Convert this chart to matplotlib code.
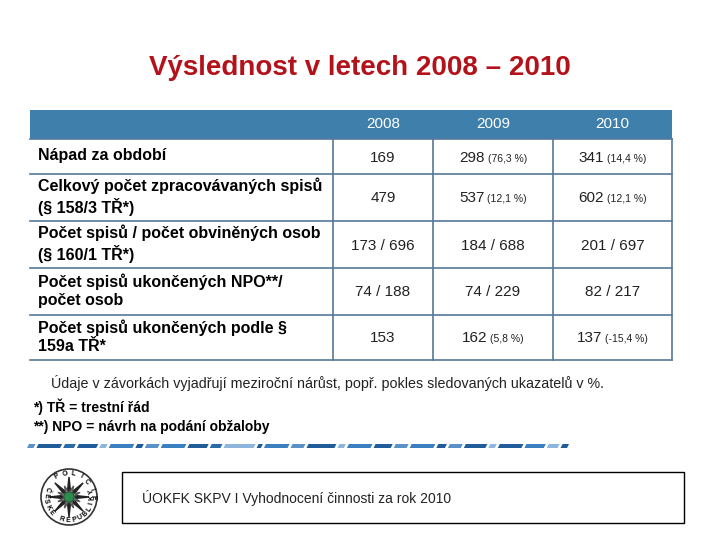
import numpy as np
import matplotlib.pyplot as plt
from matplotlib.patches import Rectangle, Circle, Polygon

plt.rcParams['font.family'] = ['Liberation Sans', 'DejaVu Sans']

# Table content
title = "Výslednost v letech 2008 – 2010"
years = ["2008", "2009", "2010"]
row_labels = [
    "Nápad za období",
    "Celkový počet zpracovávaných spisů\n(§ 158/3 TŘ*)",
    "Počet spisů / počet obviněných osob\n(§ 160/1 TŘ*)",
    "Počet spisů ukončených NPO**/\npočet osob",
    "Počet spisů ukončených podle §\n159a TŘ*",
]
values_2008 = ["169", "479", "173 / 696", "74 / 188", "153"]
values_2009 = ["298", "537", "184 / 688", "74 / 229", "162"]
values_2010 = ["341", "602", "201 / 697", "82 / 217", "137"]
change_2009 = ["(76,3 %)", "(12,1 %)", "", "", "(5,8 %)"]
change_2010 = ["(14,4 %)", "(12,1 %)", "", "", "(-15,4 %)"]
note = "Údaje v závorkách vyjadřují meziroční nárůst, popř. pokles sledovaných ukazatelů v %."
footnotes = ["*) TŘ = trestní řád", "**) NPO = návrh na podání obžaloby"]
footer = "ÚOKFK SKPV I Vyhodnocení činnosti za rok 2010"

# layout in pixels
col_edges = [30, 333, 433, 553, 672]
row_edges = [139, 174, 221, 268, 315, 360]
header_top = 110
blue = '#3f7fab'
line_c = '#56799a'

fig = plt.figure(figsize=(7.2, 5.4), dpi=100)
ax = fig.add_axes([0, 0, 1, 1])
ax.set_xlim(0, 720)
ax.set_ylim(540, 0)
ax.axis('off')

ax.text(360, 68, title, ha='center', va='center', fontsize=20, fontweight='bold', color='#b3121b')

# header band
ax.add_patch(Rectangle((col_edges[0], header_top), col_edges[-1] - col_edges[0],
                       row_edges[0] - header_top, facecolor=blue, edgecolor='none'))
for j, y in enumerate(years):
    xc = (col_edges[j + 1] + col_edges[j + 2]) / 2
    ax.text(xc, 124, y, ha='center', va='center', fontsize=11, color='white')

# grid
for y in row_edges:
    ax.plot([col_edges[0], col_edges[-1]], [y, y], color=line_c, lw=1.2)
for x in col_edges[1:]:
    ax.plot([x, x], [row_edges[0], row_edges[-1]], color=line_c, lw=1.2)

fig.canvas.draw()
r = fig.canvas.get_renderer()

cols = [(values_2008, None), (values_2009, change_2009), (values_2010, change_2010)]
for i, lab in enumerate(row_labels):
    yc = (row_edges[i] + row_edges[i + 1]) / 2
    ax.text(38, yc - 1, lab, ha='left', va='center', fontsize=11.5, fontweight='bold',
            color='black', linespacing=1.25)
    base = yc + 5
    for j, (vals, chg) in enumerate(cols):
        xc = (col_edges[j + 1] + col_edges[j + 2]) / 2
        t1 = ax.text(0, base, vals[i], ha='left', va='baseline', fontsize=11, color='#222222')
        w1 = t1.get_window_extent(r).width
        if chg is not None and chg[i]:
            t2 = ax.text(0, base, chg[i], ha='left', va='baseline', fontsize=7.5, color='#222222')
            w2 = t2.get_window_extent(r).width
            gap = 3
            x0 = xc - (w1 + gap + w2) / 2
            t1.set_x(x0)
            t2.set_x(x0 + w1 + gap)
        else:
            t1.set_x(xc - w1 / 2)

ax.text(51, 383, note, ha='left', va='center', fontsize=10.3, color='#222222')
ax.text(33, 407, footnotes[0], ha='left', va='center', fontsize=10, fontweight='bold')
ax.text(33, 427, footnotes[1], ha='left', va='center', fontsize=10, fontweight='bold')

# decorative slanted stripe
seg_len = [6, 22, 10, 18, 6, 22, 6, 12, 22, 18, 10, 28, 4, 22, 12, 26, 6, 22, 16, 12,
           22, 8, 12, 20, 6, 22, 18, 10, 6]
seg_col = ['#5a92c8', '#1f5c99', '#2a6aa8', '#1f5c99', '#8cb6dc', '#3a80c0', '#1f5c99',
           '#5a92c8', '#3a80c0', '#1f5c99', '#2a6aa8', '#8cb6dc', '#1f5c99', '#3a80c0',
           '#5a92c8', '#1f5c99', '#8cb6dc', '#3a80c0', '#1f5c99', '#5a92c8', '#3a80c0',
           '#1f5c99', '#5a92c8', '#1f5c99', '#8cb6dc', '#1f5c99', '#3a80c0', '#8cb6dc',
           '#1f5c99']
gap = 3
scale = (570 - 27 - gap * len(seg_len)) / sum(seg_len)
x = 27
for L, c in zip(seg_len, seg_col):
    L = L * scale
    ax.add_patch(Polygon([(x, 448), (x + 2, 444), (x + 2 + L, 444), (x + L, 448)],
                         facecolor=c, edgecolor='none'))
    x += L + gap

# footer box
ax.add_patch(Rectangle((122, 472), 562, 51, facecolor='white', edgecolor='black', lw=1))
ax.text(142, 498, footer, ha='left', va='center', fontsize=10, color='#222222')

# police badge
cx, cy = 69, 497
ax.add_patch(Circle((cx, cy), 28, facecolor='white', edgecolor='#333333', lw=1.2))
ang = np.linspace(0, 2 * np.pi, 17)[:-1] - np.pi / 2
rad = np.where(np.arange(16) % 2 == 0, 20, 4.5)
ax.add_patch(Polygon(np.c_[cx + rad * np.cos(ang), cy + rad * np.sin(ang)],
                     facecolor='#222222', edgecolor='#222222'))
ang2 = ang + np.pi / 8
rad2 = np.where(np.arange(16) % 2 == 0, 12, 4)
ax.add_patch(Polygon(np.c_[cx + rad2 * np.cos(ang2), cy + rad2 * np.sin(ang2)],
                     facecolor='#888888', edgecolor='#555555'))
ax.add_patch(Circle((cx, cy), 5, facecolor='#2e8b4e', edgecolor='#1a5a30', lw=0.6))
top_txt = "POLICIE"
for k, ch in enumerate(top_txt):
    a = np.deg2rad(-60 + (k - (len(top_txt) - 1) / 2) * 20)
    ax.text(cx + 23.5 * np.cos(a), cy + 23.5 * np.sin(a), ch, ha='center', va='center',
            fontsize=5, fontweight='bold', rotation=-np.rad2deg(a) - 90)
bot_txt = "ČESKÉ REPUBLIKY"
for k, ch in enumerate(bot_txt):
    a = np.deg2rad(200 - k * 215 / (len(bot_txt) - 1))
    ax.text(cx + 23.5 * np.cos(a), cy + 23.5 * np.sin(a), ch, ha='center', va='center',
            fontsize=5, fontweight='bold', rotation=-np.rad2deg(a) + 90)

fig.savefig('out.png', dpi=100)
